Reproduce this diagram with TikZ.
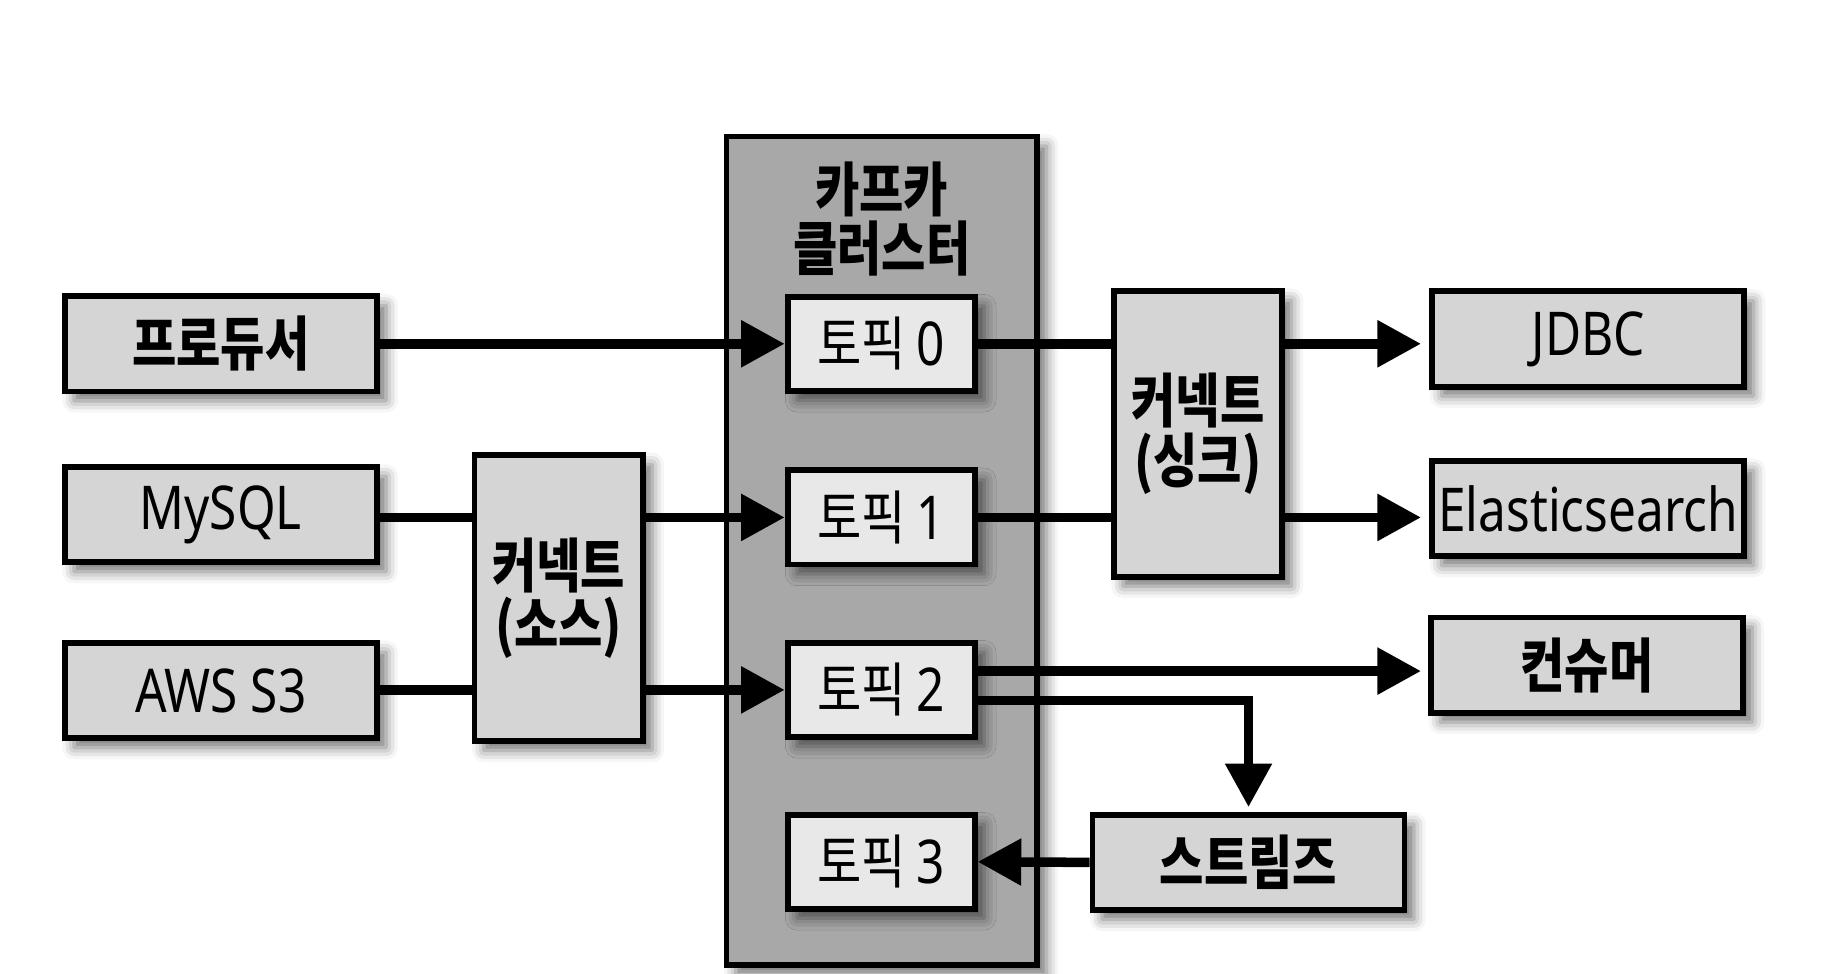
\documentclass[tikz,border=0pt]{standalone}
\usepackage{fontspec}
\newfontfamily\kr[FakeStretch=0.82]{Noto Sans CJK KR}
\newfontfamily\lat[FakeStretch=0.82]{Noto Sans}
\usetikzlibrary{arrows.meta,shadows.blur,calc}
\definecolor{clusterfill}{HTML}{A8A8A8}
\definecolor{boxfill}{HTML}{D5D5D5}
\definecolor{topicfill}{HTML}{E8E8E8}
\newcommand\krb{\kr\bfseries\fontsize{14.2pt}{14.4pt}\selectfont}
\newcommand\krr{\kr\fontsize{14.2pt}{14.4pt}\selectfont}
\newcommand\latr{\lat\fontsize{14.6pt}{16pt}\selectfont}
\newcommand\dg[1]{{\latr #1}}
\tikzset{
  shad/.style={blur shadow={shadow xshift=0.8mm, shadow yshift=-0.8mm, shadow blur radius=1mm, shadow opacity=55}},
  base/.style={draw=black, line width=1.4pt, inner sep=0pt, align=center, shad},
  box/.style={base, fill=boxfill, minimum width=26.5mm, minimum height=8.1mm},
  topic/.style={base, fill=topicfill, minimum width=15.9mm, minimum height=8mm, font=\krr},
  conn/.style={base, fill=boxfill, minimum width=14.3mm, minimum height=24.3mm, font=\krb},
  cluster/.style={base, fill=clusterfill},
  ln/.style={line width=2.3pt},
  arr/.style={line width=2.3pt, -{Triangle[length=3.7mm,width=3.8mm]}}
}
\begin{document}
\begin{tikzpicture}[x=0.1mm,y=-0.1mm]
\useasboundingbox (0,0) rectangle (1568,827);
% cluster
\node[cluster, minimum width=26.4mm, minimum height=70.4mm] (cl) at (749,468) {};
\node[font=\krb, align=center] (cltitle) at (749,186) {카프카\\클러스터};
% topics
\node[topic] (t0) at (748.5,292) {토픽 \dg{0}};
\node[topic] (t1) at (748.5,439.5) {토픽 \dg{1}};
\node[topic] (t2) at (748.5,586) {토픽 \dg{2}};
\node[topic] (t3) at (748.5,732) {토픽 \dg{3}};
% left
\node[box, font=\krb] (prod) at (187.5,292) {프로듀서};
\node[box, font=\latr] (mysql) at (187.5,437) {MySQL};
\node[box, font=\latr] (aws) at (187.5,586.5) {AWS S3};
\node[conn] (src) at (474.5,508) {커넥트\\(소스)};
% right
\node[conn] (sink) at (1017.5,368.5) {커넥트\\(싱크)};
\node[box, font=\latr] (jdbc) at (1349,288) {JDBC};
\node[box, font=\latr] (es) at (1349,432) {Elasticsearch};
\node[box, font=\krb] (cons) at (1348,565) {컨슈머};
\node[box, font=\krb] (streams) at (1060.5,732.5) {스트림즈};
% connectors
\draw[arr] (prod.east) -- (t0.west);
\draw[ln] (mysql.east |- t1.west) -- (src.west |- t1.west);
\draw[arr] (src.east |- t1.west) -- (t1.west);
\draw[ln] (aws.east |- t2.west) -- (src.west |- t2.west);
\draw[arr] (src.east |- t2.west) -- (t2.west);
\draw[ln] (t0.east) -- (t0.east -| sink.west);
\draw[arr, shorten >=0.7mm] (sink.east |- t0.east) -- (jdbc.west |- t0.east);
\draw[ln] (t1.east) -- (t1.east -| sink.west);
\draw[arr, shorten >=0.7mm] (sink.east |- t1.east) -- (es.west |- t1.east);
\coordinate (t2a) at ($(t2.east)+(0,-16)$);
\coordinate (t2b) at ($(t2.east)+(0,9)$);
\draw[arr, shorten >=0.6mm] (t2a) -- (t2a -| cons.west);
\draw[arr, shorten >=0.4mm] (t2b) -| (streams.north);
\draw[arr] (streams.west) -- (t3.east);
\end{tikzpicture}
\end{document}
